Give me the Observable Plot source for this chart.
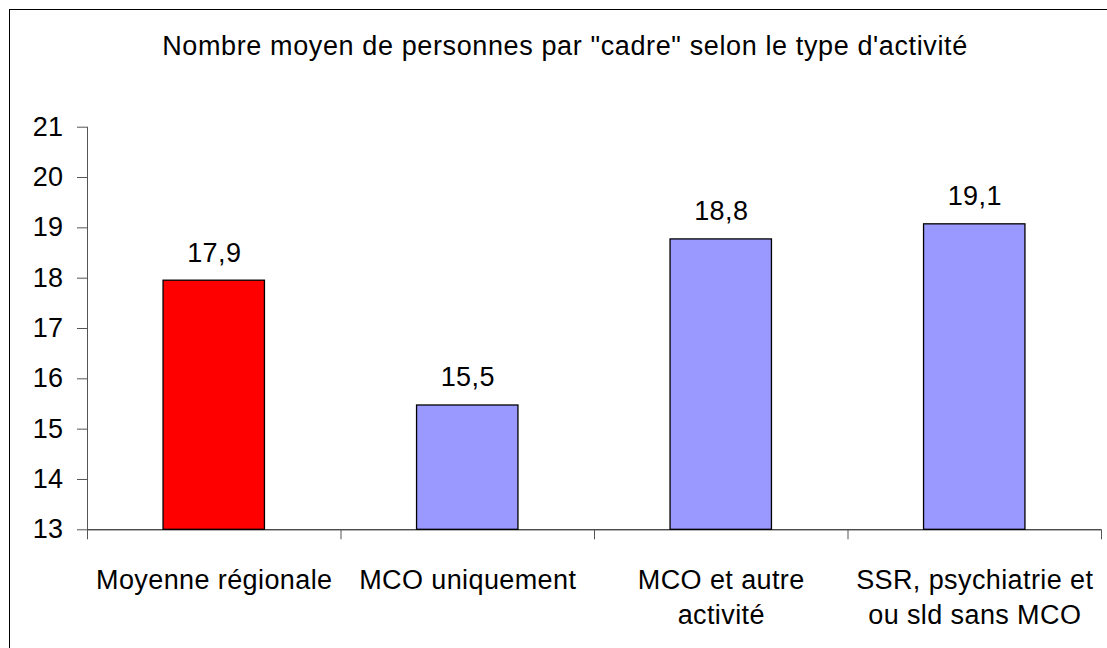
<!DOCTYPE html>
<html><head><meta charset="utf-8">
<script src="https://cdn.jsdelivr.net/npm/d3@7"></script>
<script src="https://cdn.jsdelivr.net/npm/@observablehq/plot@0.6"></script>
<style>
body{margin:0;background:#fff;}
#wrap{position:relative;width:1107px;height:648px;overflow:hidden;font-family:"Liberation Sans",Arial,sans-serif;}
#chart{position:absolute;left:0;top:0;}
#frame{position:absolute;left:9px;top:9px;width:1200px;height:800px;border:1px solid #000;box-sizing:border-box;}
#title{position:absolute;left:0;top:33px;width:1130px;text-align:center;font-size:27px;line-height:27px;letter-spacing:0.62px;color:#000;white-space:nowrap;}
</style></head><body>
<div id="wrap"><div id="chart"></div><div id="frame"></div><div id="title">Nombre moyen de personnes par "cadre" selon le type d'activité</div></div>
<script>
const categories = ["Moyenne régionale", "MCO uniquement", "MCO et autre\nactivité", "SSR, psychiatrie et\nou sld sans MCO"];
const values = [17.95, 15.47, 18.77, 19.07];
const valueLabels = ["17,9", "15,5", "18,8", "19,1"];
const yTicks = [13, 14, 15, 16, 17, 18, 19, 20, 21];
const barColors = ["#FF0000", "#9999FF", "#9999FF", "#9999FF"];

const yBase = yTicks[0];
const barFrac = 0.4;
const rows = categories.map((c, i) => ({i, category: c, value: values[i], label: valueLabels[i]}));

const chart = Plot.plot({
  width: 1107, height: 648,
  marginLeft: 87, marginRight: 6, marginTop: 126.7, marginBottom: 118.7,
  style: {fontFamily: '"Liberation Sans", Arial, sans-serif', fontSize: "27px", letterSpacing: "0.4px", background: "transparent", color: "#000"},
  x: {domain: [0, categories.length], label: null},
  y: {domain: [yTicks[0], yTicks[yTicks.length - 1]], label: null},
  marks: [
    Plot.rectY(rows, {
      x1: d => d.i + (1 - barFrac) / 2,
      x2: d => d.i + (1 + barFrac) / 2,
      y1: yBase, y2: "value",
      fill: d => barColors[d.i], stroke: "#000", strokeWidth: 1.3
    }),
    Plot.ruleY([yBase], {stroke: "#000", strokeWidth: 1}),
    Plot.ruleX([0], {stroke: "#555", strokeWidth: 1}),
    Plot.axisY({ticks: yTicks, tickSize: 10, tickPadding: 14, stroke: "#555", fontSize: 27, label: null, tickFormat: d => String(d)}),
    Plot.axisX({ticks: d3.range(categories.length + 1), tickSize: 10, tickFormat: () => "", label: null, stroke: "#555"}),
    Plot.axisX({ticks: categories.map((c, i) => i + 0.5), tickSize: 0, tickPadding: 34.5, lineHeight: 1.3, fontSize: 27, label: null, tickFormat: d => categories[Math.floor(d)]}),
    Plot.text(rows, {x: d => d.i + 0.5, y: "value", text: "label", dy: -19, lineAnchor: "bottom", fontSize: 27, fill: "#000"})
  ]
});
document.getElementById("chart").appendChild(chart);
</script>
</body></html>
